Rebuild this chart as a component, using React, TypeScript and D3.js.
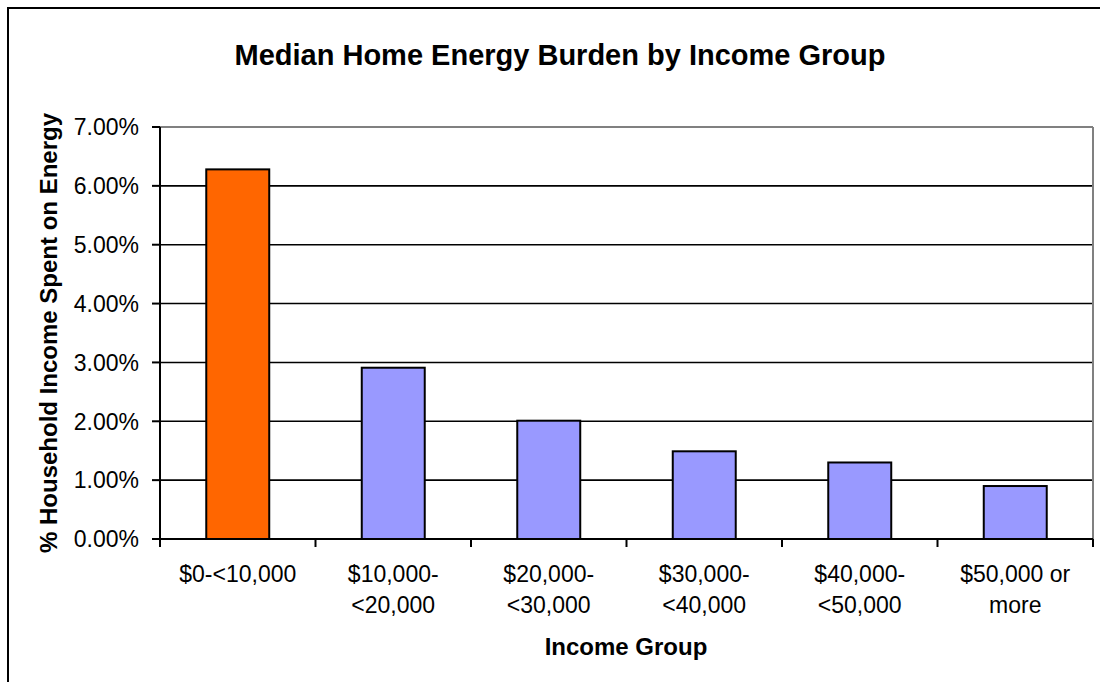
import React from "react";
import * as d3 from "d3";

const categories: string[][] = [
  ["$0-<10,000"],
  ["$10,000-", "<20,000"],
  ["$20,000-", "<30,000"],
  ["$30,000-", "<40,000"],
  ["$40,000-", "<50,000"],
  ["$50,000 or", "more"],
];
const values: number[] = [6.28, 2.91, 2.01, 1.49, 1.3, 0.9];
const barColors: string[] = ["#FF6600", "#9999FF", "#9999FF", "#9999FF", "#9999FF", "#9999FF"];
const yTicks: number[] = [0, 1, 2, 3, 4, 5, 6, 7];
const title = "Median Home Energy Burden by Income Group";
const xTitle = "Income Group";
const yTitle = "% Household Income Spent on Energy";

export default function App() {
  const W = 1100, H = 682;
  const left = 160, right = 1093, top = 127, bottom = 539;
  const keys = categories.map((_, i) => String(i));
  const x = d3.scaleBand<string>().domain(keys).range([left, right]).paddingInner(0.595).paddingOuter(0.2975);
  const y = d3.scaleLinear().domain([0, 7]).range([bottom, top]);
  const step = x.step();
  const font = "Arial, 'Liberation Sans', Helvetica, sans-serif";
  const bounds = d3.range(categories.length + 1).map((i) => left + i * step);

  return (
    <div style={{ position: "fixed", left: 0, top: 0 }}>
      <svg width={W} height={H} style={{ display: "block", background: "#fff" }} fontFamily={font}>
        <rect x={0} y={0} width={W} height={H} fill="#fff" />
        <rect x={8} y={8} width={1250} height={800} fill="none" stroke="#000" strokeWidth={2} />
        <text x={560} y={65} textAnchor="middle" fontSize={29} fontWeight="bold" fill="#000">{title}</text>

        {/* gridlines */}
        {yTicks.filter((t) => t > 0 && t < 7).map((t) => (
          <line key={t} x1={left} x2={right} y1={y(t)} y2={y(t)} stroke="#000" strokeWidth={1.6} />
        ))}
        <line x1={left} x2={right} y1={y(7)} y2={y(7)} stroke="#808080" strokeWidth={2} />
        <line x1={right} x2={right} y1={top} y2={bottom} stroke="#808080" strokeWidth={2} />

        {/* bars */}
        {values.map((v, i) => (
          <rect key={i} x={x(String(i))} y={y(v)} width={x.bandwidth()} height={y(0) - y(v)}
            fill={barColors[i]} stroke="#000" strokeWidth={2} />
        ))}

        {/* axes */}
        <line x1={left} x2={left} y1={top} y2={bottom} stroke="#000" strokeWidth={2} />
        <line x1={left} x2={right} y1={bottom} y2={bottom} stroke="#000" strokeWidth={2} />
        {yTicks.map((t) => (
          <g key={t}>
            <line x1={152} x2={left} y1={y(t)} y2={y(t)} stroke="#000" strokeWidth={2} />
            <text x={139} y={y(t)} dy="0.36em" textAnchor="end" fontSize={23} fill="#000">
              {t.toFixed(2) + "%"}
            </text>
          </g>
        ))}
        {bounds.map((b, i) => (
          <line key={i} x1={b} x2={b} y1={bottom} y2={bottom + 8} stroke="#000" strokeWidth={2} />
        ))}
        {categories.map((lines, i) => (
          <text key={i} textAnchor="middle" fontSize={23} fill="#000">
            {lines.map((l, j) => (
              <tspan key={j} x={(x(String(i)) as number) + x.bandwidth() / 2} y={582 + j * 31}>{l}</tspan>
            ))}
          </text>
        ))}
        <text x={626} y={655} textAnchor="middle" fontSize={24} fontWeight="bold" fill="#000">{xTitle}</text>
        <text transform={`translate(57,333) rotate(-90)`} textAnchor="middle" fontSize={24} fontWeight="bold" fill="#000">{yTitle}</text>
      </svg>
    </div>
  );
}
